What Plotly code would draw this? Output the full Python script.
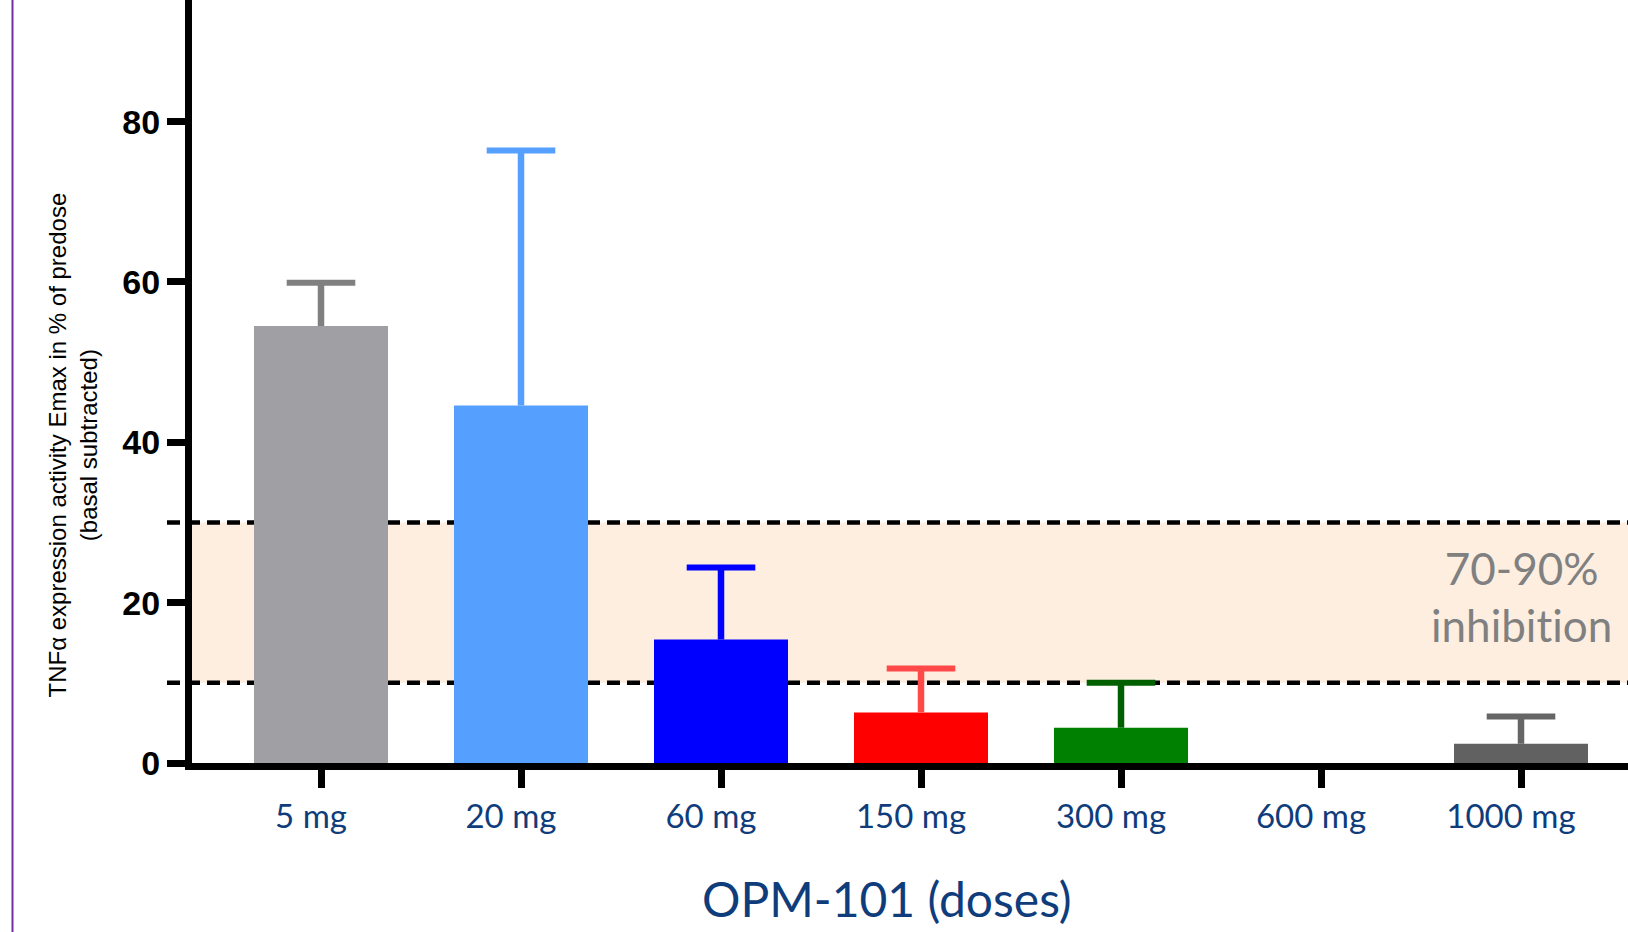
import plotly.graph_objects as go

# ---- data ----
doses = ["5 mg", "20 mg", "60 mg", "150 mg", "300 mg", "600 mg", "1000 mg"]
mean_emax = [54.5, 44.6, 15.4, 6.3, 4.4, None, 2.4]
upper_emax = [59.9, 76.4, 24.4, 11.8, 10.0, None, 5.8]
y_ticks = [0, 20, 40, 60, 80]
band_low, band_high = 10, 30

bar_colors = ["#A09FA4", "#55A0FF", "#0000FF", "#FF0000", "#008000", "#888888", "#616161"]
err_colors = ["#808080", "#55A0FF", "#0000FF", "#FF4848", "#006000", "#888888", "#666666"]

# ---- geometry (pixels) ----
W, H = 1628, 932
L, B = 192, 763          # plot area left / bottom in px
plot_w = W - L
plot_h = B

fig = go.Figure()
for i, d in enumerate(doses):
    if mean_emax[i] is None:
        continue
    fig.add_trace(go.Bar(
        x=[d], y=[mean_emax[i]],
        marker=dict(color=bar_colors[i], line=dict(width=0)),
        width=0.67, showlegend=False, hoverinfo="skip",
    ))
    # upper error bar: stem from mean to upper value, cap only at the top
    fig.add_trace(go.Scatter(
        x=[d], y=[upper_emax[i]], mode="markers",
        marker=dict(symbol="line-ew", size=49,
                    line=dict(color=err_colors[i], width=6)),
        error_y=dict(type="data", symmetric=False, array=[0],
                     arrayminus=[upper_emax[i] - mean_emax[i]],
                     color=err_colors[i], thickness=6.5, width=0),
        showlegend=False, hoverinfo="skip",
    ))

# shaded target band and dashed limits
fig.add_shape(type="rect", xref="paper", yref="y", x0=0, x1=1,
              y0=band_low, y1=band_high, fillcolor="#FDEEE0",
              line=dict(width=0), layer="below")
for yv in (band_low, band_high):
    fig.add_shape(type="line", xref="paper", yref="y",
                  x0=(167 - L) / plot_w, x1=1, y0=yv, y1=yv,
                  line=dict(color="black", width=4.5, dash="13px,7px"),
                  layer="below")

# purple frame line at far left
fig.add_shape(type="line", xref="paper", yref="paper",
              x0=(12.5 - L) / plot_w, x1=(12.5 - L) / plot_w,
              y0=-(H - B) / plot_h - 0.01, y1=1.01,
              line=dict(color="#7030A0", width=2))

fig.add_annotation(text="70-90%<br>inhibit\u200cion", xref="x", yref="y",
                   x=6, y=20.8, showarrow=False, xanchor="center", yanchor="middle",
                   font=dict(family="Lato", size=44, color="#808080"))

fig.add_annotation(text="OPM-101 (doses)", xref="paper", yref="paper",
                   x=(887 - L) / plot_w, y=(B - 899) / plot_h,
                   showarrow=False, xanchor="center", yanchor="middle",
                   font=dict(family="Lato", size=48, color="#0F3D7C"))

fig.add_annotation(text="TNF\u03b1 expression activity Emax in % of predose<br>(basal subtracted)",
                   xref="paper", yref="paper",
                   x=(72.5 - L) / plot_w, y=(B - 445) / plot_h,
                   textangle=-90, showarrow=False, xanchor="center", yanchor="middle",
                   font=dict(family="Liberation Sans", size=24, color="black"))

fig.update_layout(
    width=W, height=H,
    margin=dict(l=L, r=0, t=0, b=H - B, pad=0),
    paper_bgcolor="white", plot_bgcolor="white",
    barmode="overlay", showlegend=False,
    xaxis=dict(type="category", categoryorder="array", categoryarray=doses,
               range=[-0.645, 6.535], showgrid=False, zeroline=False,
               showline=True, linecolor="black", linewidth=7,
               ticks="outside", ticklen=18, tickwidth=7, tickcolor="black",
               tickfont=dict(family="Lato", size=33, color="#0F3D7C"),
               ticklabelshift=-10, ticklabelstandoff=0),
    yaxis=dict(range=[0, B / 8.017], tickvals=y_ticks, showgrid=False,
               zeroline=False, showline=True, linecolor="black", linewidth=7,
               ticks="outside", ticklen=18, tickwidth=7, tickcolor="black",
               tickfont=dict(family="Liberation Sans", size=34, color="black",
                             weight="bold")),
)

fig.write_html("out.html")
